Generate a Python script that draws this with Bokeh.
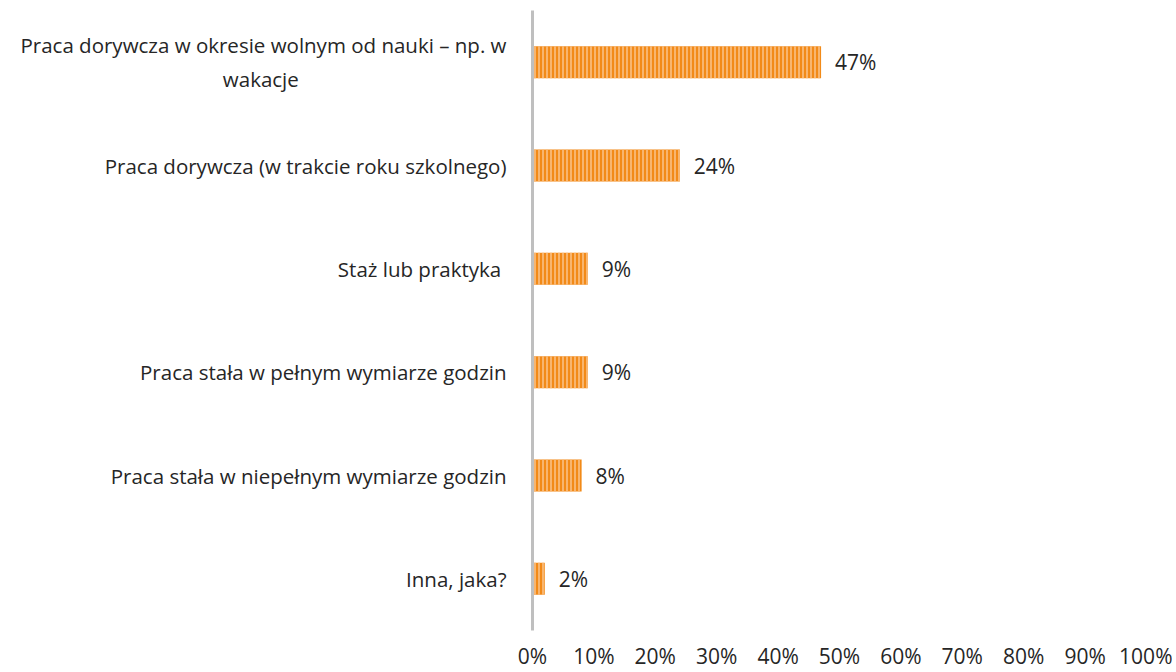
from bokeh.plotting import figure
from bokeh.models import ColumnDataSource, FactorRange, LabelSet, NumeralTickFormatter, FixedTicker
from bokeh.core.properties import value
from bokeh.embed import file_html
from bokeh.resources import INLINE

PAD = "\u00a0" * 39
categories = [
    "Praca dorywcza w okresie wolnym od nauki – np. w\nwakacje" + PAD,
    "Praca dorywcza (w trakcie roku szkolnego)",
    "Staż lub praktyka ",
    "Praca stała w pełnym wymiarze godzin",
    "Praca stała w niepełnym wymiarze godzin",
    "Inna, jaka?",
]
values = [0.47, 0.24, 0.09, 0.09, 0.08, 0.02]
value_labels = ["47%", "24%", "9%", "9%", "8%", "2%"]
ticks = [0, 0.1, 0.2, 0.3, 0.4, 0.5, 0.6, 0.7, 0.8, 0.9, 1.0]

FONT = "Open Sans"
TXT = "#262626"
FS = "21px"

src = ColumnDataSource(dict(cat=categories, val=values, lab=value_labels))

p = figure(
    width=1172, height=672, output_backend="svg", toolbar_location=None,
    y_range=FactorRange(*reversed(categories), range_padding=0),
    x_range=(0, 1.0),
    min_border_left=532, min_border_right=26, min_border_top=10, min_border_bottom=42,
)
p.hbar(y="cat", right="val", left=0, height=0.31, source=src,
       fill_color="#F28A18", line_color=None,
       hatch_pattern="vertical_line", hatch_color="#FAC084",
       hatch_weight=1.6, hatch_scale=4)

labels = LabelSet(x="val", y="cat", text="lab", source=src, x_offset=14,
                  text_baseline="middle", text_font=value(FONT), text_font_size=value(FS),
                  text_color=TXT)
p.add_layout(labels)

p.xgrid.visible = False
p.ygrid.visible = False
p.outline_line_color = None

xa = p.xaxis[0]
xa.ticker = FixedTicker(ticks=ticks)
xa.formatter = NumeralTickFormatter(format="0%")
xa.axis_line_color = None
xa.major_tick_line_color = None
xa.minor_tick_line_color = None
xa.major_label_standoff = 5
xa.major_label_text_font = FONT
xa.major_label_text_font_size = FS
xa.major_label_text_color = TXT

ya = p.yaxis[0]
ya.axis_line_color = "#BFBFBF"
ya.axis_line_width = 3
ya.major_tick_line_color = None
ya.minor_tick_line_color = None
ya.major_label_standoff = 20
ya.major_label_text_font = FONT
ya.major_label_text_font_size = "20.5px"
ya.major_label_text_color = TXT
ya.major_label_text_align = "right"

open("out.html", "w").write(file_html(p, INLINE))
